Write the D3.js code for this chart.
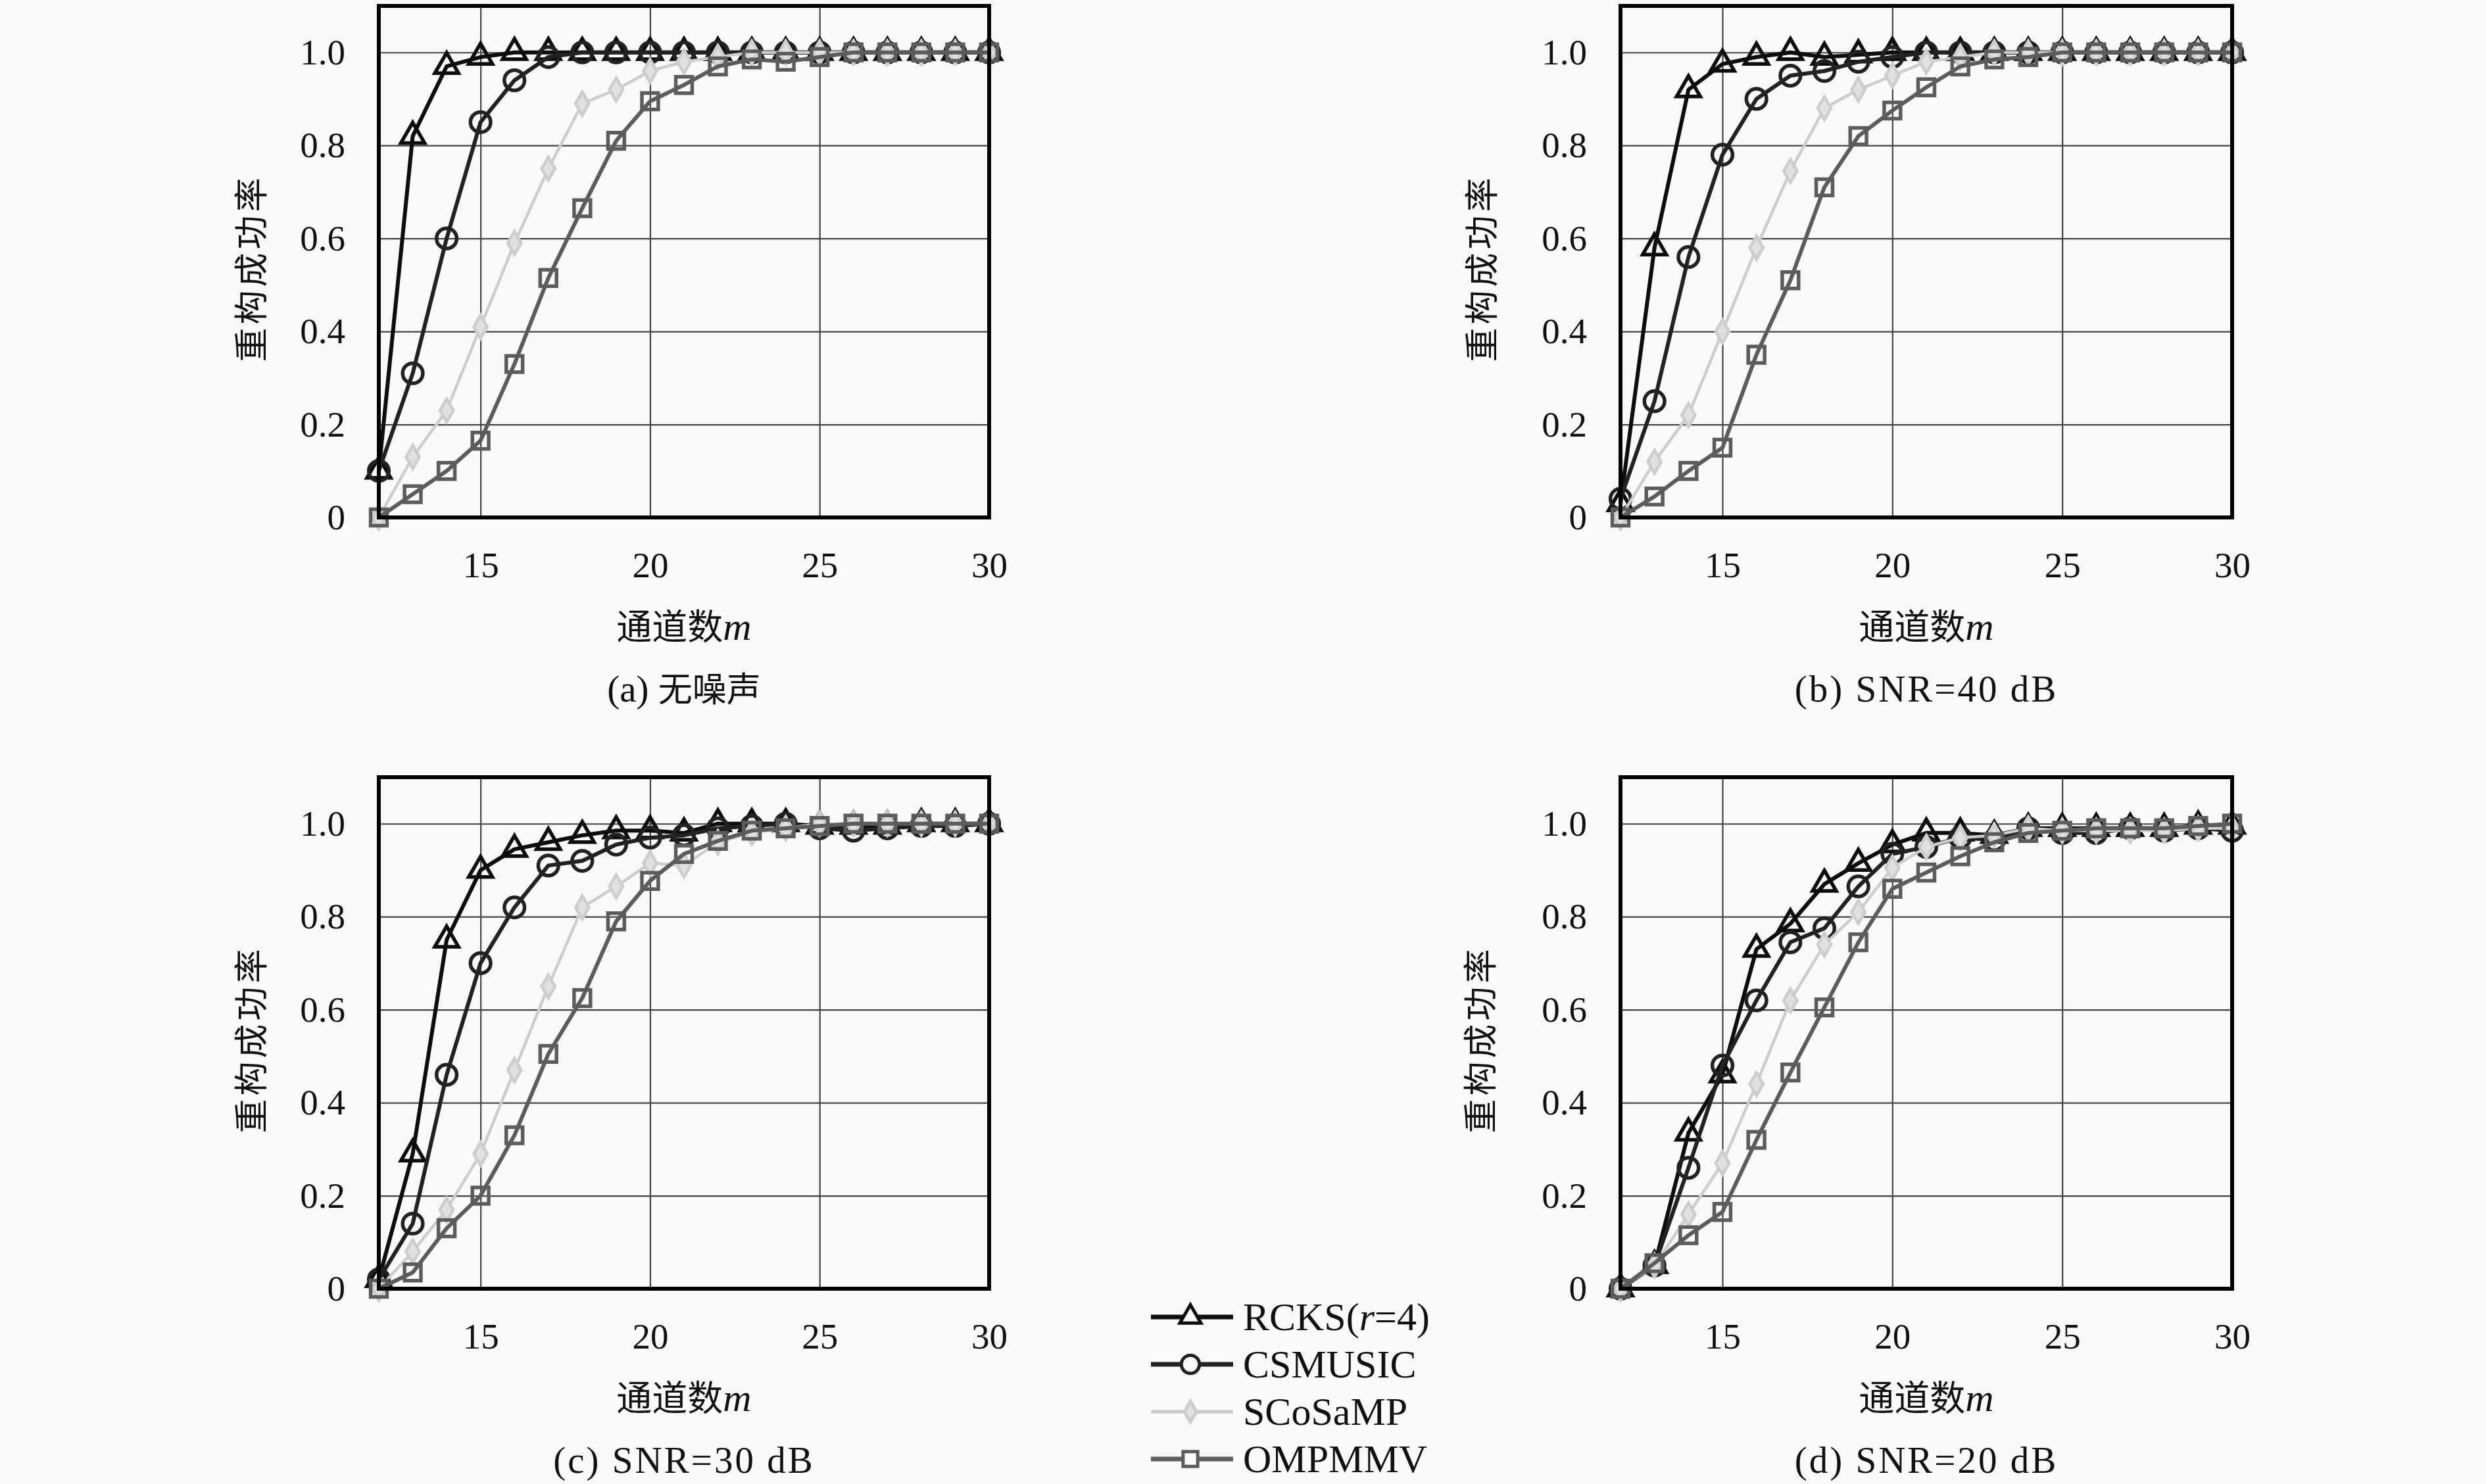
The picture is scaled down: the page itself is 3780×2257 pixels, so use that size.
<!DOCTYPE html>
<html>
<head>
<meta charset="utf-8">
<script src="https://cdn.jsdelivr.net/npm/d3@7"></script>
<style>
  body { margin: 0; background: #f9f9f9; }
  text { font-family: "Liberation Serif", "DejaVu Serif", serif; fill: #111; }
  .cjk { font-family: "Noto Sans CJK SC", sans-serif; }
</style>
</head>
<body>
<script>
// channel count m (x categories)
const mValues = [12, 13, 14, 15, 16, 17, 18, 19, 20, 21, 22, 23, 24, 25, 26, 27, 28, 29, 30];
const xTicks = [15, 20, 25, 30];
const yTicks = [0, 0.2, 0.4, 0.6, 0.8, 1.0];
const seriesNames = ["RCKS", "CSMUSIC", "SCoSaMP", "OMPMMV"];
const captions = ["(a) 无噪声", "(b) SNR=40 dB", "(c) SNR=30 dB", "(d) SNR=20 dB"];

// (a) no noise
const rcksA    = [0.10, 0.82, 0.97, 0.99, 1.0, 1.0, 1.0, 1.0, 1.0, 1.0, 1.0, 1.0, 1.0, 1.0, 1.0, 1.0, 1.0, 1.0, 1.0];
const csmusicA = [0.10, 0.31, 0.60, 0.85, 0.94, 0.99, 1.0, 1.0, 1.0, 1.0, 1.0, 1.0, 1.0, 1.0, 1.0, 1.0, 1.0, 1.0, 1.0];
const scosampA = [0.0, 0.13, 0.23, 0.41, 0.59, 0.75, 0.89, 0.92, 0.96, 0.98, 0.99, 1.0, 1.0, 1.0, 1.0, 1.0, 1.0, 1.0, 1.0];
const ompmmvA  = [0.0, 0.05, 0.10, 0.165, 0.33, 0.515, 0.665, 0.81, 0.895, 0.93, 0.97, 0.985, 0.98, 0.99, 1.0, 1.0, 1.0, 1.0, 1.0];

// (b) SNR=40 dB
const rcksB    = [0.03, 0.58, 0.92, 0.975, 0.99, 1.0, 0.99, 0.995, 1.0, 1.0, 1.0, 1.0, 1.0, 1.0, 1.0, 1.0, 1.0, 1.0, 1.0];
const csmusicB = [0.04, 0.25, 0.56, 0.78, 0.90, 0.95, 0.96, 0.98, 0.99, 1.0, 1.0, 1.0, 1.0, 1.0, 1.0, 1.0, 1.0, 1.0, 1.0];
const scosampB = [0.0, 0.12, 0.22, 0.40, 0.58, 0.745, 0.88, 0.92, 0.95, 0.98, 0.99, 1.0, 1.0, 1.0, 1.0, 1.0, 1.0, 1.0, 1.0];
const ompmmvB  = [0.0, 0.045, 0.10, 0.15, 0.35, 0.51, 0.71, 0.82, 0.875, 0.925, 0.97, 0.985, 0.99, 1.0, 1.0, 1.0, 1.0, 1.0, 1.0];

// (c) SNR=30 dB
const rcksC    = [0.02, 0.29, 0.75, 0.90, 0.945, 0.96, 0.975, 0.985, 0.985, 0.98, 1.0, 1.0, 1.0, 0.995, 0.995, 0.995, 1.0, 1.0, 1.0];
const csmusicC = [0.02, 0.14, 0.46, 0.70, 0.82, 0.91, 0.92, 0.955, 0.97, 0.975, 0.99, 0.995, 1.0, 0.99, 0.985, 0.99, 0.995, 0.995, 1.0];
const scosampC = [0.0, 0.08, 0.17, 0.29, 0.47, 0.65, 0.82, 0.865, 0.915, 0.91, 0.96, 0.98, 0.99, 1.0, 1.0, 1.0, 1.0, 1.0, 1.0];
const ompmmvC  = [0.0, 0.035, 0.13, 0.20, 0.33, 0.505, 0.625, 0.79, 0.877, 0.935, 0.963, 0.985, 0.99, 0.995, 1.0, 1.0, 1.0, 1.0, 1.0];

// (d) SNR=20 dB
const rcksD    = [0.0, 0.05, 0.335, 0.46, 0.73, 0.785, 0.87, 0.915, 0.955, 0.98, 0.98, 0.975, 0.99, 0.99, 0.99, 0.99, 0.99, 0.995, 0.995];
const csmusicD = [0.0, 0.05, 0.26, 0.48, 0.62, 0.745, 0.775, 0.865, 0.935, 0.95, 0.97, 0.965, 0.99, 0.98, 0.98, 0.99, 0.985, 0.99, 0.985];
const scosampD = [0.0, 0.05, 0.16, 0.27, 0.44, 0.62, 0.74, 0.81, 0.905, 0.95, 0.97, 0.975, 0.99, 0.985, 0.985, 0.985, 0.985, 0.99, 0.99];
const ompmmvD  = [0.0, 0.055, 0.115, 0.165, 0.32, 0.465, 0.605, 0.745, 0.86, 0.895, 0.93, 0.96, 0.98, 0.985, 0.99, 0.99, 0.99, 0.995, 1.0];

const panelData = [
  [rcksA, csmusicA, scosampA, ompmmvA],
  [rcksB, csmusicB, scosampB, ompmmvB],
  [rcksC, csmusicC, scosampC, ompmmvC],
  [rcksD, csmusicD, scosampD, ompmmvD]
];

// look of each series
const styles = [
  {color: "#0d0d0d", width: 6, symbol: d3.symbolTriangle, size: 560},
  {color: "#222", width: 6, symbol: d3.symbolCircle, size: 740},
  {color: "#cdcdcd", width: 4.5, symbol: d3.symbolDiamond, size: 360},
  {color: "#5c5c5c", width: 6, symbol: d3.symbolSquare, size: 620}
];

// panel placement
const panels = [
  {left: 576, top: 9, width: 928, height: 778, labelOff: 193},
  {left: 2464, top: 9, width: 930, height: 778, labelOff: 210},
  {left: 576, top: 1182, width: 928, height: 778, labelOff: 193},
  {left: 2464, top: 1182, width: 930, height: 778, labelOff: 212}
];

const bg = "#f9f9f9";

const svg = d3.select("body")
  .append("svg")
    .attr("width", 3780)
    .attr("height", 2257);

svg.append("rect")
  .attr("width", 3780)
  .attr("height", 2257)
  .attr("fill", bg);

function drawPanel(p, data, caption) {
  const g = svg.append("g")
    .attr("transform", `translate(${p.left},${p.top})`);

  const x = d3.scaleLinear().domain([12, 30]).range([0, p.width]);
  const y = d3.scaleLinear().domain([0, 1.1]).range([p.height, 0]);

  // grid
  g.append("g")
    .attr("transform", `translate(0,${p.height})`)
    .call(d3.axisBottom(x).tickValues([15, 20, 25]).tickSize(-p.height).tickFormat(""))
    .call(a => a.select(".domain").remove())
    .selectAll("line").attr("stroke", "#444").attr("stroke-width", 2.2);
  g.append("g")
    .call(d3.axisLeft(y).tickValues([0.2, 0.4, 0.6, 0.8, 1.0]).tickSize(-p.width).tickFormat(""))
    .call(a => a.select(".domain").remove())
    .selectAll("line").attr("stroke", "#444").attr("stroke-width", 2.2);

  // tick labels
  g.append("g")
    .attr("transform", `translate(0,${p.height})`)
    .call(d3.axisBottom(x).tickValues(xTicks).tickSize(0).tickPadding(52))
    .call(a => a.select(".domain").remove())
    .selectAll("text")
      .style("font-family", "Liberation Serif")
      .style("font-size", "55px")
      .attr("fill", "#111");
  g.append("g")
    .call(d3.axisLeft(y).tickValues(yTicks).tickSize(0).tickPadding(51)
      .tickFormat(d => d === 0 ? "0" : d.toFixed(1)))
    .call(a => a.select(".domain").remove())
    .selectAll("text")
      .style("font-family", "Liberation Serif")
      .style("font-size", "55px")
      .attr("fill", "#111");

  // lines and markers
  const line = d3.line()
    .x((d, i) => x(mValues[i]))
    .y(d => y(d));

  data.forEach((vals, k) => {
    const s = styles[k];
    g.append("path")
      .datum(vals)
      .attr("d", line)
      .attr("fill", "none")
      .attr("stroke", s.color)
      .attr("stroke-width", s.width)
      .attr("stroke-linejoin", "round");

    g.selectAll(".mk" + k)
      .data(vals)
      .join("path")
        .attr("class", "mk" + k)
        .attr("transform", (d, i) => `translate(${x(mValues[i])},${y(d)})`)
        .attr("d", d3.symbol().type(s.symbol).size(s.size))
        .attr("fill", k === 2 ? "#e0e0e0" : "none")
        .attr("stroke", s.color)
        .attr("stroke-width", k === 2 ? 4.5 : 5.5);
  });

  // frame
  g.append("rect")
    .attr("width", p.width)
    .attr("height", p.height)
    .attr("fill", "none")
    .attr("stroke", "#000")
    .attr("stroke-width", 6);

  // axis titles
  g.append("text")
    .attr("x", p.width / 2)
    .attr("y", p.height + 186)
    .attr("text-anchor", "middle")
    .style("font-size", "54px")
    .call(t => {
      t.append("tspan").attr("class", "cjk").text("通道数");
      t.append("tspan").style("font-style", "italic").style("font-size", "60px").text("m");
    });

  g.append("text")
    .attr("class", "cjk")
    .attr("transform", `translate(${-p.labelOff + 18},${p.height / 2 + 10}) rotate(-90)`)
    .attr("text-anchor", "middle")
    .style("font-size", "52px")
    .style("letter-spacing", "5px")
    .text("重构成功率");

  // caption
  const parts = caption.split(" ");
  g.append("text")
    .attr("x", p.width / 2)
    .attr("y", p.height + 280)
    .attr("text-anchor", "middle")
    .style("font-size", "57px")
    .call(t => {
      if (/[\u4e00-\u9fff]/.test(caption)) {
        t.append("tspan").text(parts[0] + " ");
        t.append("tspan").attr("class", "cjk").style("font-size", "52px").text(parts.slice(1).join(" "));
      } else {
        t.style("letter-spacing", "3px").text(caption);
      }
    });
}

panels.forEach((p, i) => drawPanel(p, panelData[i], captions[i]));

// legend
const legend = svg.append("g").attr("transform", "translate(1750,2003)");
seriesNames.forEach((name, k) => {
  const s = styles[k];
  const row = legend.append("g").attr("transform", `translate(0,${k * 72})`);
  row.append("line")
    .attr("x1", 0).attr("x2", 125)
    .attr("stroke", s.color)
    .attr("stroke-width", s.width + 1);
  row.append("path")
    .attr("transform", "translate(60,0)")
    .attr("d", d3.symbol().type(s.symbol).size(s.size * 0.8))
    .attr("fill", k === 2 ? "#e0e0e0" : bg)
    .attr("stroke", s.color)
    .attr("stroke-width", 5);
  const t = row.append("text")
    .attr("x", 140)
    .attr("y", 20)
    .style("font-size", "60px");
  if (k === 0) {
    t.append("tspan").text("RCKS(");
    t.append("tspan").style("font-style", "italic").text("r");
    t.append("tspan").text("=4)");
  } else {
    t.text(name);
  }
});
</script>
</body>
</html>
